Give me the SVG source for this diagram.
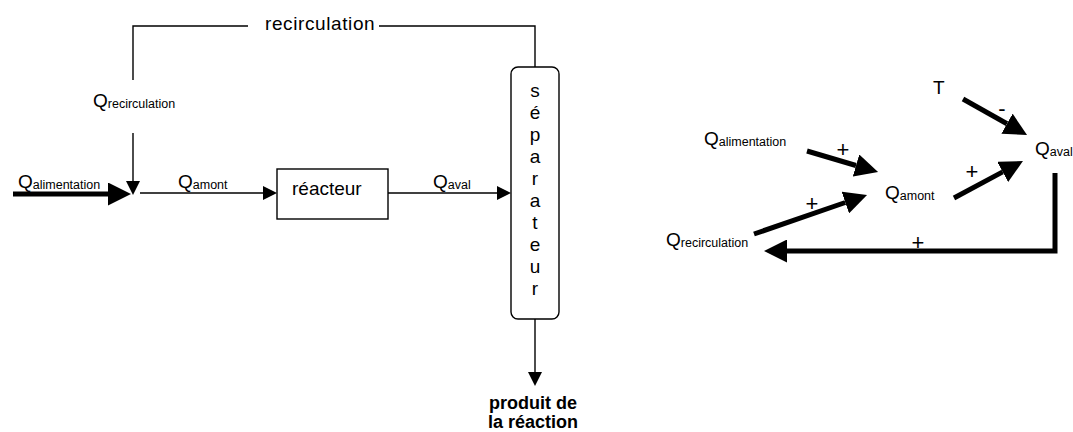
<svg xmlns="http://www.w3.org/2000/svg" width="1073" height="432" viewBox="0 0 1073 432">
<style>
text{font-family:"Liberation Sans",Arial,sans-serif;fill:#000}
.t{font-size:19px}
.s{font-size:12.5px}
.b{font-size:18px;font-weight:bold}
.p{font-size:22px}
.thin{fill:none;stroke:#000;stroke-width:1.4}
.thick{fill:none;stroke:#000;stroke-width:5}
.box{fill:#fff;stroke:#000;stroke-width:1.4}
</style>
<defs>
<marker id="ah" markerUnits="userSpaceOnUse" markerWidth="14" markerHeight="14" refX="0" refY="7" orient="auto"><path d="M0,0 L14,7 L0,14 z" fill="#000"/></marker>
<marker id="AH" markerUnits="userSpaceOnUse" markerWidth="23" markerHeight="23" refX="0" refY="11.5" orient="auto"><path d="M0,0 L23,11.5 L0,23 z" fill="#000"/></marker>
</defs>
<g id="connectors">
<path class="thin" d="M248,26 H133 V80"/>
<path class="thin" d="M379,26 H535 V67"/>
<path class="thin" d="M133,133 V181" marker-end="url(#ah)"/>
<path class="thick" d="M13,194 H108" marker-end="url(#AH)"/>
<path class="thin" d="M140,193 H263" marker-end="url(#ah)"/>
<path class="thin" d="M388,193 H497" marker-end="url(#ah)"/>
<path class="thin" d="M535,319 V372" marker-end="url(#ah)"/>
<path class="thick" d="M963,99 L1007,123.7" marker-end="url(#AH)"/>
<path class="thick" d="M807,151 L856,165.5" marker-end="url(#AH)"/>
<path class="thick" d="M754,234 L845.3,202.5" marker-end="url(#AH)"/>
<path class="thick" d="M954,198 L1002.7,171.9" marker-end="url(#AH)"/>
<path class="thick" d="M1055,173 V251 H787" marker-end="url(#AH)"/>
</g>
<g id="label-recirculation"><text class="t" x="265" y="30" letter-spacing="0.6">recirculation</text></g>
<g id="label-qrecirculation-left"><text class="t" x="93" y="107">Q<tspan class="s" dy="1">recirculation</tspan></text></g>
<g id="label-qalimentation-left"><text class="t" x="18" y="188">Q<tspan class="s" dy="1">alimentation</tspan></text></g>
<g id="label-qamont-left"><text class="t" x="178" y="188">Q<tspan class="s" dy="1">amont</tspan></text></g>
<g id="label-qaval-left"><text class="t" x="433" y="188">Q<tspan class="s" dy="1">aval</tspan></text></g>
<g id="reacteur">
<rect class="box" x="277" y="169" width="111" height="50"/>
<text class="t" x="292" y="195">réacteur</text>
</g>
<g id="separateur">
<rect class="box" x="511" y="67" width="48" height="252" rx="7" ry="7"/>
<g text-anchor="middle">
<text class="t" x="535" y="97">s</text>
<text class="t" x="535" y="119">é</text>
<text class="t" x="535" y="141">p</text>
<text class="t" x="535" y="163">a</text>
<text class="t" x="535" y="185">r</text>
<text class="t" x="535" y="207">a</text>
<text class="t" x="535" y="229">t</text>
<text class="t" x="535" y="251">e</text>
<text class="t" x="535" y="273">u</text>
<text class="t" x="535" y="295">r</text>
</g>
</g>
<g id="produit" text-anchor="middle">
<text class="b" x="533" y="409">produit de</text>
<text class="b" x="533" y="428">la réaction</text>
</g>
<g id="node-T"><text class="t" x="933" y="94">T</text></g>
<g id="node-qalimentation"><text class="t" x="704" y="145">Q<tspan class="s" dy="1">alimentation</tspan></text></g>
<g id="node-qamont"><text class="t" x="885" y="199">Q<tspan class="s" dy="1">amont</tspan></text></g>
<g id="node-qaval"><text class="t" x="1035" y="155">Q<tspan class="s" dy="1">aval</tspan></text></g>
<g id="node-qrecirculation"><text class="t" x="666" y="246">Q<tspan class="s" dy="1">recirculation</tspan></text></g>
<g id="signs" text-anchor="middle">
<text class="p" x="843" y="157">+</text>
<text class="p" x="812" y="211">+</text>
<text class="p" x="972" y="179">+</text>
<text class="p" x="918" y="250">+</text>
<text class="p" x="1002" y="116">-</text>
</g>
</svg>
